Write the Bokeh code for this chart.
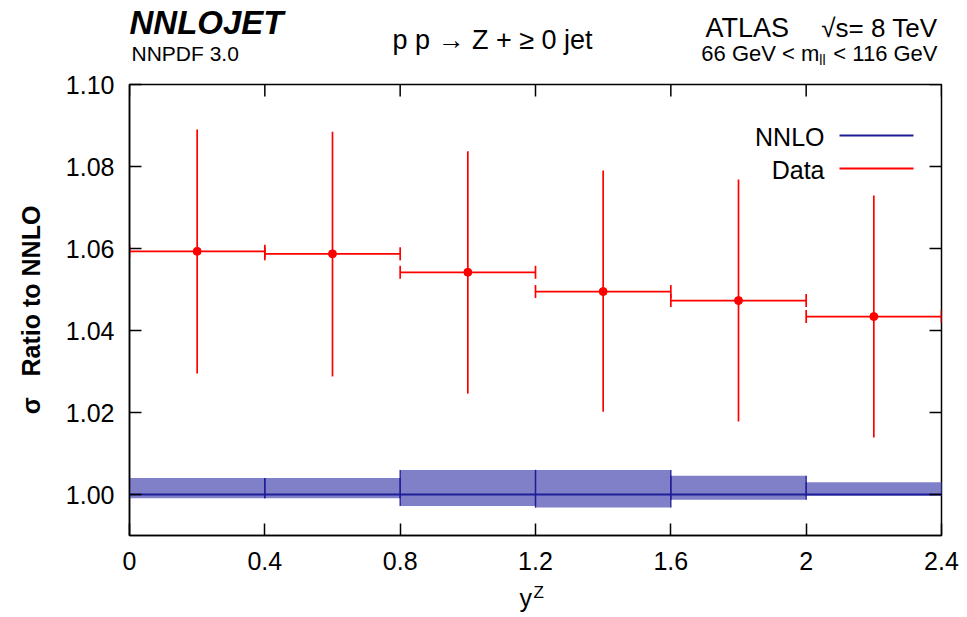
import math

from bokeh.plotting import figure
from bokeh.layouts import column
from bokeh.models import Range1d, FixedTicker, Label, BoxAnnotation
from bokeh.embed import file_html
from bokeh.resources import INLINE

# Z-boson rapidity bins
bin_edges = [0.0, 0.4, 0.8, 1.2, 1.6, 2.0, 2.4]

# ATLAS 8 TeV data divided by the NNLO prediction, with total uncertainty
data_ratio = [1.0593, 1.0587, 1.0542, 1.0495, 1.0473, 1.0434]
data_up = [1.0890, 1.0885, 1.0837, 1.0790, 1.0768, 1.0729]
data_down = [1.0295, 1.0288, 1.0246, 1.0202, 1.0178, 1.0139]

# NNLO prediction (normalised to itself) with its scale-uncertainty band
nnlo_central = [1.0, 1.0, 1.0, 1.0, 1.0, 1.0]
nnlo_high = [1.0040, 1.0040, 1.0060, 1.0060, 1.0046, 1.0030]
nnlo_low = [0.9991, 0.9991, 0.9972, 0.9968, 0.9987, 0.9997]

x_ticks = [0.0, 0.4, 0.8, 1.2, 1.6, 2.0, 2.4]
x_tick_labels = ["0", "0.4", "0.8", "1.2", "1.6", "2", "2.4"]
y_ticks = [1.00, 1.02, 1.04, 1.06, 1.08, 1.10]
y_tick_labels = ["1.00", "1.02", "1.04", "1.06", "1.08", "1.10"]

X_MIN, X_MAX = 0.0, 2.4
Y_MIN, Y_MAX = 0.99, 1.10

FONT = "Liberation Sans"
RED = "#ff0000"
BAND = "#8080c8"
DARK_BLUE = "#1e1e98"

# page layout (pixels): header strip, plot, footer strip
W = 967
HEADER_H, PLOT_H, FOOTER_H = 68, 516, 33
LEFT, RIGHT = 129, 26
PLOT_TOP, PLOT_BOTTOM = 16, 49
FRAME_TOP = HEADER_H + PLOT_TOP                 # 84
FRAME_BOTTOM = HEADER_H + PLOT_H - PLOT_BOTTOM  # 535
FOOTER_TOP = HEADER_H + PLOT_H                  # 584


def label(fig, x, y, s, size, align="left", style="normal"):
    fig.add_layout(Label(x=x, y=y, x_units="screen", y_units="screen",
                         text=s, text_font=FONT, text_font_size=size,
                         text_font_style=style, text_align=align,
                         text_baseline="middle", text_color="black"))


def blank_strip(height):
    # same side borders as the main plot, so the frames line up in the column
    f = figure(width=W, height=height, x_range=Range1d(0, 1), y_range=Range1d(0, 1),
               output_backend="svg", toolbar_location=None,
               x_axis_location=None, y_axis_location=None,
               min_border_left=LEFT, min_border_right=RIGHT,
               min_border_top=0, min_border_bottom=0)
    f.outline_line_color = None
    f.background_fill_color = "white"
    f.border_fill_color = "white"
    f.grid.visible = False
    return f


# ---------------------------------------------------------------- main plot
p = figure(
    width=W, height=PLOT_H,
    x_range=Range1d(X_MIN, X_MAX), y_range=Range1d(Y_MIN, Y_MAX),
    output_backend="svg", toolbar_location=None,
    min_border_left=LEFT, min_border_right=RIGHT,
    min_border_top=PLOT_TOP, min_border_bottom=PLOT_BOTTOM,
)
p.background_fill_color = "white"
p.border_fill_color = "white"
p.xgrid.visible = False
p.ygrid.visible = False
p.outline_line_color = "black"
p.outline_line_width = 1.5

lefts = bin_edges[:-1]
rights = bin_edges[1:]
centers = [(a + b) / 2 for a, b in zip(lefts, rights)]

# NNLO band, central line and bin-edge markers
p.quad(left=lefts, right=rights, bottom=nnlo_low, top=nnlo_high,
       fill_color=BAND, line_color=None)
p.segment(x0=lefts, y0=nnlo_low, x1=lefts, y1=nnlo_high,
          line_color=DARK_BLUE, line_width=1.3)
p.segment(x0=rights, y0=nnlo_low, x1=rights, y1=nnlo_high,
          line_color=DARK_BLUE, line_width=1.3)
p.segment(x0=lefts, y0=nnlo_central, x1=rights, y1=nnlo_central,
          line_color=DARK_BLUE, line_width=2)

# data: bin-width bars with end caps, vertical error bars, markers
p.segment(x0=lefts, y0=data_ratio, x1=rights, y1=data_ratio,
          line_color=RED, line_width=1.7)
p.scatter(x=lefts + rights, y=data_ratio + data_ratio, marker="dash",
          angle=math.pi / 2, size=13, line_color=RED, line_width=1.7)
p.segment(x0=centers, y0=data_down, x1=centers, y1=data_up,
          line_color=RED, line_width=1.7)
p.scatter(x=centers, y=data_ratio, size=8, fill_color=RED, line_color=RED)

# mirrored inward ticks on the top and right edges (half clipped by the frame)
p.scatter(x=x_ticks, y=[Y_MAX] * len(x_ticks), marker="dash", angle=math.pi / 2,
          size=24, line_color="black", line_width=1.5)
p.scatter(x=[X_MAX] * len(y_ticks), y=y_ticks, marker="dash",
          size=24, line_color="black", line_width=1.5)


def style_axis(ax, ticks, labels):
    ax.ticker = FixedTicker(ticks=ticks)
    ax.major_tick_in = 12
    ax.major_tick_out = 0
    ax.minor_tick_in = 0
    ax.minor_tick_out = 0
    ax.axis_line_color = "black"
    ax.axis_line_width = 1.5
    ax.major_tick_line_color = "black"
    ax.major_tick_line_width = 1.5
    ax.major_label_overrides = {t: l for t, l in zip(ticks, labels)}
    ax.major_label_text_font = FONT
    ax.major_label_text_font_size = "25px"
    ax.major_label_text_color = "black"


style_axis(p.xaxis[0], x_ticks, x_tick_labels)
p.xaxis[0].major_label_standoff = 16
style_axis(p.yaxis[0], y_ticks, y_tick_labels)
p.yaxis[0].major_label_standoff = 15
p.yaxis[0].axis_label = "σ\u00a0\u00a0\u00a0Ratio to NNLO"
p.yaxis[0].axis_label_text_font = FONT
p.yaxis[0].axis_label_text_font_style = "bold"
p.yaxis[0].axis_label_text_font_size = "25px"
p.yaxis[0].axis_label_text_color = "black"
p.yaxis[0].axis_label_standoff = 18


def fx(cx):
    # page x -> frame-relative screen x (all three frames share the left border)
    return cx - LEFT


# legend (label left of its line sample)
def in_frame(cx, cy):
    return fx(cx), FRAME_BOTTOM - cy


label(p, *in_frame(824, 136), "NNLO", "25px", align="right")
label(p, *in_frame(824, 169), "Data", "25px", align="right")
for cy, col in ((135, DARK_BLUE), (168, RED)):
    x0, y0 = in_frame(839, cy)
    x1, _ = in_frame(913, cy)
    p.add_layout(BoxAnnotation(
        left=x0, right=x1, bottom=y0 - 1, top=y0 + 1,
        left_units="screen", right_units="screen",
        bottom_units="screen", top_units="screen",
        fill_color=col, fill_alpha=1.0, line_alpha=0.0))

# ---------------------------------------------------------------- header
header = blank_strip(HEADER_H)


def hy(cy):
    return HEADER_H - cy


label(header, fx(129), hy(22), "NNLOJET", "33px", style="bold italic")
label(header, fx(131), hy(53), "NNPDF 3.0", "21px")
label(header, fx(492), hy(39), "p p → Z + ≥ 0 jet", "27px", align="center")
label(header, fx(705), hy(27), "ATLAS", "27px")
label(header, fx(937), hy(27), "√s= 8 TeV", "26px", align="right")
# 66 GeV < m_ll < 116 GeV, assembled from right to left
tail_w = 5.087 * 22
sub_w = 0.444 * 14
label(header, fx(937), hy(53), "\u00a0< 116 GeV", "22px", align="right")
label(header, fx(937 - tail_w), hy(59), "ll", "14px", align="right")
label(header, fx(937 - tail_w - sub_w), hy(53), "66 GeV < m", "22px", align="right")

# ---------------------------------------------------------------- footer (x title y^Z)
footer = blank_strip(FOOTER_H)


def fy(cy):
    return FOOTER_TOP + FOOTER_H - cy


label(footer, fx(519), fy(597), "y", "25px")
label(footer, fx(533), fy(592), "Z", "17px")

page = column(header, p, footer, spacing=0)
open("out.html", "w").write(file_html(page, INLINE))
